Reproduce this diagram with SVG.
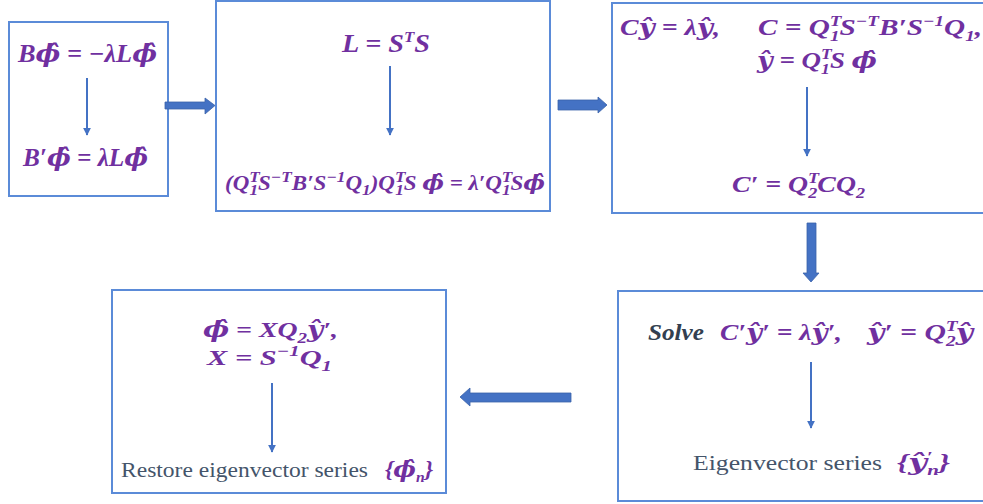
<svg xmlns="http://www.w3.org/2000/svg" width="983" height="504" viewBox="0 0 983 504">
<style>
.box{fill:#fff;stroke:#5B8BD8;stroke-width:2}
.m{font-family:"Liberation Serif","DejaVu Serif",serif;font-weight:bold;font-style:italic;fill:#7030A0;font-size:23px}
.p{font-family:"DejaVu Serif",serif}
.sc{font-size:15px}
.t{font-family:"Liberation Serif","DejaVu Serif",serif;fill:#44546A;font-size:21px}
.sv{font-family:"Liberation Serif","DejaVu Serif",serif;font-weight:bold;font-style:italic;fill:#333F50;font-size:23px}
.thin{stroke:#4472C4;stroke-width:2;fill:none;marker-end:url(#ah)}
.blk{fill:#4472C4;stroke:#3A62AA;stroke-width:0.8}
</style>
<defs>
<marker id="ah" viewBox="0 0 10 10" refX="9" refY="5" markerWidth="4" markerHeight="4" orient="auto" markerUnits="strokeWidth">
<path d="M0,0 L10,5 L0,10 z" fill="#4472C4"/>
</marker>
</defs>
<rect width="983" height="504" fill="#fff"/>

<g id="box1">
<rect class="box" x="9" y="22" width="159" height="174"/>
<text class="m" x="18" y="62" style="font-size:25px" textLength="139" lengthAdjust="spacingAndGlyphs">B<tspan class="p">ϕ̂</tspan> = −λL<tspan class="p">ϕ̂</tspan></text>
<path class="thin" d="M87,78 V135"/>
<text class="m" x="23" y="166" style="font-size:25px" textLength="125" lengthAdjust="spacingAndGlyphs">B′<tspan class="p">ϕ̂</tspan> = λL<tspan class="p">ϕ̂</tspan></text>
</g>

<g id="box2">
<rect class="box" x="216" y="1" width="334" height="210"/>
<text class="m" x="342" y="52" style="font-size:25px" textLength="88" lengthAdjust="spacingAndGlyphs">L = S<tspan class="sc" dy="-10">T</tspan><tspan dy="10">S</tspan></text>
<path class="thin" d="M390,66 V135"/>
<text class="m" x="225" y="190" style="font-size:20px" textLength="320" lengthAdjust="spacingAndGlyphs">(Q<tspan class="sc" dy="-8">T</tspan><tspan class="sc" dx="-9" dy="13">1</tspan><tspan dy="-5">S</tspan><tspan class="sc" dy="-8">−T</tspan><tspan dy="8">B′S</tspan><tspan class="sc" dy="-8">−1</tspan><tspan dy="8">Q</tspan><tspan class="sc" dy="5">1</tspan><tspan dy="-5">)Q</tspan><tspan class="sc" dy="-8">T</tspan><tspan class="sc" dx="-9" dy="13">1</tspan><tspan dy="-5">S </tspan><tspan class="p">ϕ̂</tspan> = λ′Q<tspan class="sc" dy="-8">T</tspan><tspan class="sc" dx="-9" dy="13">1</tspan><tspan dy="-5">S</tspan><tspan class="p">ϕ̂</tspan></text>
</g>

<g id="box3">
<rect class="box" x="612" y="3" width="380" height="210"/>
<text class="m" x="620" y="35" textLength="100" lengthAdjust="spacingAndGlyphs">C<tspan class="p">ŷ</tspan> = λ<tspan class="p">ŷ</tspan>,</text>
<text class="m" x="758" y="35" textLength="224" lengthAdjust="spacingAndGlyphs">C = Q<tspan class="sc" dy="-9">T</tspan><tspan class="sc" dx="-9" dy="15">1</tspan><tspan dy="-6">S</tspan><tspan class="sc" dy="-9">−T</tspan><tspan dy="9">B′S</tspan><tspan class="sc" dy="-9">−1</tspan><tspan dy="9">Q</tspan><tspan class="sc" dy="6">1</tspan><tspan dy="-6">,</tspan></text>
<text class="m" x="757" y="68" textLength="120" lengthAdjust="spacingAndGlyphs"><tspan class="p">ŷ</tspan> = Q<tspan class="sc" dy="-9">T</tspan><tspan class="sc" dx="-9" dy="15">1</tspan><tspan dy="-6">S </tspan><tspan class="p">ϕ̂</tspan></text>
<path class="thin" d="M807,87 V156"/>
<text class="m" x="732" y="192" textLength="133" lengthAdjust="spacingAndGlyphs">C′ = Q<tspan class="sc" dy="-9">T</tspan><tspan class="sc" dx="-9" dy="15">2</tspan><tspan dy="-6">CQ</tspan><tspan class="sc" dy="6">2</tspan></text>
</g>

<g id="box4">
<rect class="box" x="112" y="290" width="334" height="203"/>
<text class="m" x="203" y="337" style="font-size:22px" textLength="135" lengthAdjust="spacingAndGlyphs"><tspan class="p">ϕ̂</tspan> = XQ<tspan class="sc" dy="6">2</tspan><tspan class="p" dy="-6">ŷ</tspan>′,</text>
<text class="m" x="207" y="365" style="font-size:22px" textLength="125" lengthAdjust="spacingAndGlyphs">X = S<tspan class="sc" dy="-9">−1</tspan><tspan dy="9">Q</tspan><tspan class="sc" dy="6">1</tspan></text>
<path class="thin" d="M272,383 V452"/>
<text class="t" x="121" y="477" textLength="247" lengthAdjust="spacingAndGlyphs">Restore eigenvector series</text>
<text class="m" x="385" y="477" textLength="48" lengthAdjust="spacingAndGlyphs">{<tspan class="p">ϕ̂</tspan><tspan class="sc" dy="5">n</tspan><tspan dy="-5">}</tspan></text>
</g>

<g id="box5">
<rect class="box" x="618" y="291" width="374" height="210"/>
<text class="sv" x="648" y="340" textLength="56" lengthAdjust="spacingAndGlyphs">Solve</text>
<text class="m" x="720" y="340" textLength="122" lengthAdjust="spacingAndGlyphs">C′<tspan class="p">ŷ</tspan>′ = λ<tspan class="p">ŷ</tspan>′,</text>
<text class="m" x="867" y="340" textLength="106" lengthAdjust="spacingAndGlyphs"><tspan class="p">ŷ</tspan>′ = Q<tspan class="sc" dy="-9">T</tspan><tspan class="sc" dx="-9" dy="15">2</tspan><tspan class="p" dy="-6">ŷ</tspan></text>
<path class="thin" d="M811,362 V428"/>
<text class="t" x="693" y="470" style="font-size:22px" textLength="189" lengthAdjust="spacingAndGlyphs">Eigenvector series</text>
<text class="m" x="897" y="470" textLength="53" lengthAdjust="spacingAndGlyphs">{<tspan class="p">ŷ</tspan><tspan class="sc" dy="-8">′</tspan><tspan class="sc" dx="-4" dy="13">n</tspan><tspan dy="-5">}</tspan></text>
</g>

<g id="connectors">
<path class="blk" d="M165,102 H205 V98 L215,105.5 L205,114 V109 H165 Z"/>
<path class="blk" d="M558,100 H598 V97 L607,105 L598,113 V110 H558 Z"/>
<path class="blk" d="M807,223 H816 V273 H819 L811,282 L803,273 H807 Z"/>
<path class="blk" d="M571,393 H470 V388 L460,397 L470,406 V402 H571 Z"/>
</g>
</svg>
